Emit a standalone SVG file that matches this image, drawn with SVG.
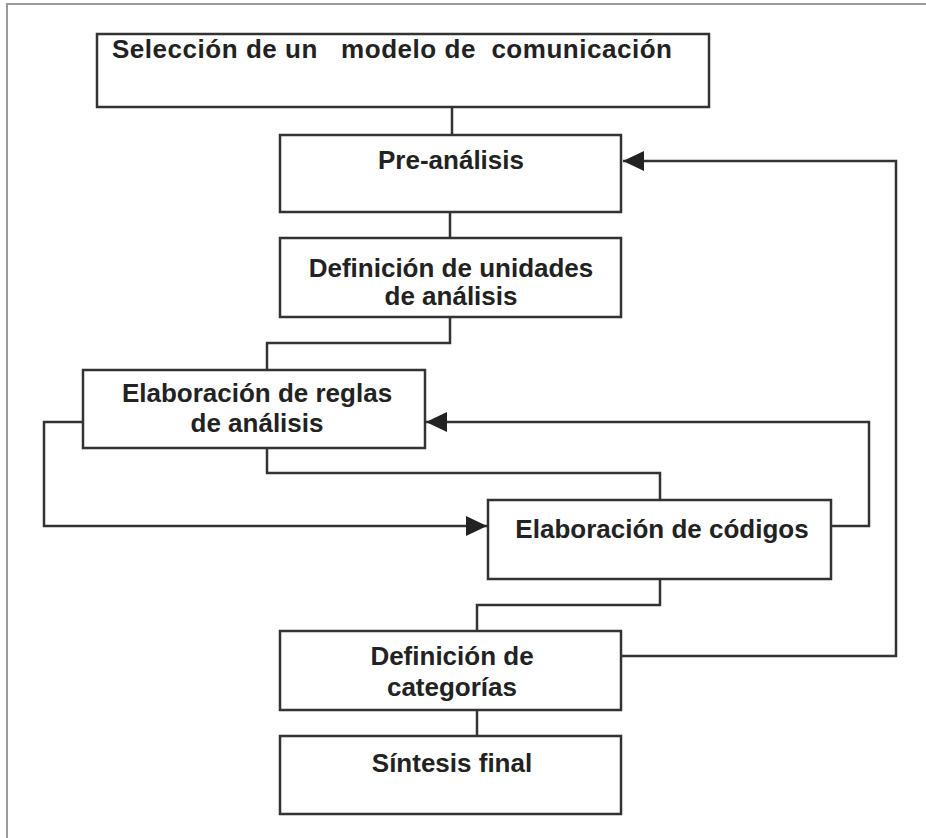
<svg xmlns="http://www.w3.org/2000/svg" width="926" height="838" viewBox="0 0 926 838">
<style>
.box{fill:#fff;stroke:#333;stroke-width:2.5}
.ln{fill:none;stroke:#333;stroke-width:2.5}
.t{font-family:"Liberation Sans",Arial,sans-serif;font-weight:bold;font-size:26px;fill:#222;text-anchor:middle}
.frame{stroke:#999;stroke-width:2;fill:none}
</style>
<defs>
<marker id="ah" markerUnits="userSpaceOnUse" markerWidth="22" markerHeight="22" viewBox="0 0 22 22" refX="21" refY="11" orient="auto">
<path d="M0,1 L21,11 L0,21 Z" fill="#222"/>
</marker>
</defs>
<rect width="926" height="838" fill="#fff"/>
<path class="frame" d="M7,838 V4 H926"/>
<g id="connectors">
<path class="ln" d="M452,107 V135"/>
<path class="ln" d="M450,212 V238"/>
<path class="ln" d="M450,317 V343 H267 V370"/>
<path class="ln" d="M267,448 V473 H660 V500"/>
<path class="ln" d="M83,422 H44 V526 H487" marker-end="url(#ah)"/>
<path class="ln" d="M831,526 H869 V422 H426" marker-end="url(#ah)"/>
<path class="ln" d="M660,579 V605 H477 V631"/>
<path class="ln" d="M621,656 H896 V161 H623" marker-end="url(#ah)"/>
<path class="ln" d="M477,710 V736"/>
</g>
<g id="n1"><rect class="box" x="97" y="34" width="612" height="73"/>
<text class="t" x="112" y="58" style="text-anchor:start;white-space:pre" xml:space="preserve" textLength="560" lengthAdjust="spacing">Selección de un   modelo de  comunicación</text></g>
<g id="n2"><rect class="box" x="280" y="135" width="341" height="77"/>
<text class="t" x="451" y="169">Pre-análisis</text></g>
<g id="n3"><rect class="box" x="280" y="238" width="341" height="79"/>
<text class="t" x="451" y="277">Definición de unidades</text>
<text class="t" x="451" y="305">de análisis</text></g>
<g id="n4"><rect class="box" x="83" y="370" width="342" height="78"/>
<text class="t" x="257" y="402">Elaboración de reglas</text>
<text class="t" x="257" y="432">de análisis</text></g>
<g id="n5"><rect class="box" x="488" y="500" width="343" height="79"/>
<text class="t" x="662" y="538">Elaboración de códigos</text></g>
<g id="n6"><rect class="box" x="280" y="631" width="341" height="79"/>
<text class="t" x="452" y="665">Definición de</text>
<text class="t" x="452" y="696">categorías</text></g>
<g id="n7"><rect class="box" x="280" y="736" width="341" height="78"/>
<text class="t" x="452" y="772">Síntesis final</text></g>
</svg>
